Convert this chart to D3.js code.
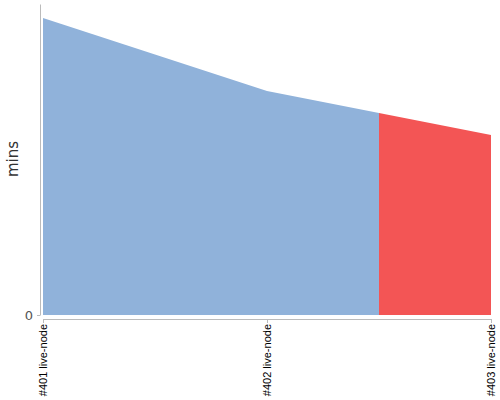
<!DOCTYPE html>
<html><head><meta charset="utf-8">
<script src="https://cdn.jsdelivr.net/npm/d3@7"></script>
<style>body{margin:0;background:#fff}svg{display:block}</style>
</head><body>
<svg id="c" width="500" height="400"></svg>
<script>
const builds = ["#401 live-node", "#402 live-node", "#403 live-node"];
const durations = [14.85, 11.2, 9.0];
const statuses = ["success", "success", "failure"];
const yTicks = [0];
const yMax = 15.55;
const statusColors = {success: "#90b2da", failure: "#f35555"};

const svg = d3.select("#c");
const x = d3.scalePoint().domain(builds).range([43, 491]);
const y = d3.scaleLinear().domain([0, yMax]).range([315, 4]);

const data = builds.map((b, i) => ({b, v: durations[i], s: statuses[i], x: x(b)}));
const interp = (px) => {
  for (let i = 0; i < data.length - 1; i++) {
    const a = data[i], c = data[i + 1];
    if (px >= a.x && px <= c.x) { const t = (px - a.x) / (c.x - a.x); return a.v + t * (c.v - a.v); }
  }
  return data[data.length - 1].v;
};
// each build owns the region between midpoints of neighbours
data.forEach((d, i) => {
  const x0 = i === 0 ? d.x : (data[i - 1].x + d.x) / 2;
  const x1 = i === data.length - 1 ? d.x : (d.x + data[i + 1].x) / 2;
  const pts = [x0];
  if (d.x > x0 && d.x < x1) pts.push(d.x);
  pts.push(x1);
  const area = d3.area().x(p => p).y0(y(0)).y1(p => y(interp(p)));
  svg.append("path").attr("d", area(pts)).attr("fill", statusColors[d.s]);
});

// y axis
const yAxis = svg.append("g").attr("transform", "translate(40,0)")
  .call(d3.axisLeft(y).tickValues(yTicks).tickSize(3).tickSizeOuter(0).tickPadding(4));
yAxis.select(".domain").attr("stroke", "#bbb");
yAxis.selectAll(".tick line").attr("stroke", "#bbb");
yAxis.selectAll(".tick text").attr("fill", "#555").style("font-family", "DejaVu Sans, sans-serif").style("font-size", "13px");

// x axis
const xAxis = svg.append("g").attr("transform", "translate(0,319)")
  .call(d3.axisBottom(x).tickSize(4).tickSizeOuter(4));
xAxis.select(".domain").attr("stroke", "#bbb");
xAxis.selectAll(".tick line").attr("stroke", "#bbb");
xAxis.selectAll(".tick text")
  .attr("transform", "rotate(-90)")
  .attr("x", -5).attr("y", 0).attr("dy", "0.35em")
  .attr("text-anchor", "end")
  .attr("fill", "#000")
  .style("font-family", "Liberation Sans, Arial, sans-serif").style("font-size", "11px");

svg.append("text").attr("transform", "translate(18,159) rotate(-90)")
  .attr("text-anchor", "middle").attr("fill", "#333")
  .style("font-family", "DejaVu Sans, sans-serif").style("font-size", "15px")
  .text("mins");
</script>
</body></html>
